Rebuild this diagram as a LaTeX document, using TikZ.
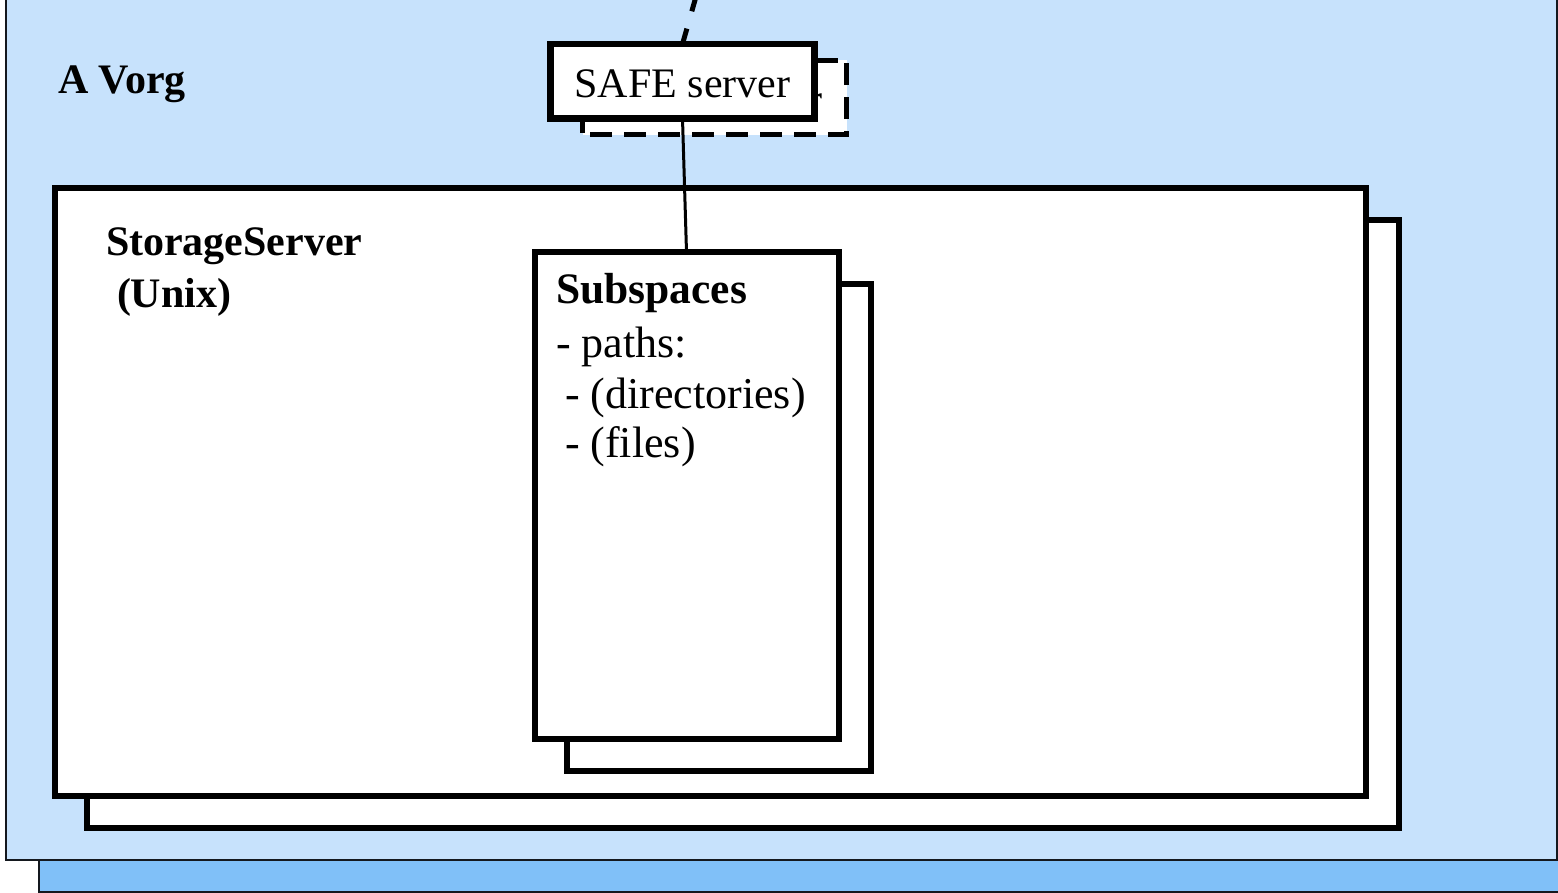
\documentclass[tikz,border=0pt]{standalone}
\usepackage{fontspec}
\setmainfont{Liberation Serif}
\definecolor{vorgfill}{RGB}{199,226,252}
\definecolor{vorgshade}{RGB}{128,192,248}
\definecolor{edgegray}{RGB}{20,24,30}
\begin{document}
\begin{tikzpicture}[x=1pt,y=-1pt,
  every node/.style={inner sep=0pt, outer sep=0pt},
  area/.style={draw=edgegray, line width=2pt, anchor=north west,
    minimum width=1551pt, minimum height=889.5pt},
  panel/.style={draw=black, fill=white, line width=6pt, anchor=north west},
  serverbox/.style={panel, line width=6.5pt, minimum width=264pt, minimum height=74.5pt},
  ghostbox/.style={draw=black, fill=white, line width=5pt, anchor=north west,
    dash pattern=on 22pt off 12pt, dash phase=26.5pt,
    minimum width=264pt, minimum height=74.5pt},
  hostbox/.style={panel, minimum width=1311.5pt, minimum height=608pt},
  spacebox/.style={panel, minimum width=304pt, minimum height=487pt},
  txt/.style={anchor=base west, font=\fontsize{42}{50}\selectfont},
  btxt/.style={anchor=base west, font=\fontsize{42}{50}\selectfont\bfseries},
  listtxt/.style={anchor=base west, font=\fontsize{44}{52}\selectfont},
  listhead/.style={anchor=base west, font=\fontsize{43.5}{52}\selectfont\bfseries},
  ctxt/.style={anchor=base, font=\fontsize{42}{50}\selectfont},
  link/.style={draw=black, line width=3pt},
  dashlink/.style={draw=black, line width=5pt, dash pattern=on 16pt off 18pt}]
\clip (0,0) rectangle (1558,892);

% virtual organisation area and its drop shadow
\node[area, fill=vorgshade] (vorgshadow) at (38.5,2) {};
\node[area, fill=vorgfill] (vorg) at (6,-30) {};
\node[btxt] (vorglabel) at (58,93) {A Vorg};

% storage server (stacked)
\node[hostbox] (hostback) at (87,219.5) {};
\node[hostbox] (host) at (54.5,187.5) {};
\node[btxt] (hostlabel) at (106,255) {StorageServer};
\node[btxt] (hostos) at (117,307) {(Unix)};

% subspaces (stacked)
\node[spacebox] (subback) at (566.5,284) {};
\node[spacebox] (sub) at (534.5,252) {};
\node[listhead] (subA) at (556,303) {Subspaces};
\node[listtxt] (subB) at (556,357) {- paths:};
\node[listtxt] (subC) at (565,408) {- (directories)};
\node[listtxt] (subD) at (565,457) {- (files)};

% SAFE server with its replica behind
\node[ghostbox] (safeback) at (582.5,60) {};
\node[ctxt] (safebacklabel) at (714.5,113) {SAFE server};
\node[serverbox] (safe) at (550.5,44) {};
\coordinate (uplink) at (706.4,-40);

% connectors
\draw[link] (safe.south) -- (sub.north);
\node[ctxt] (safelabel) at (682.5,97) {SAFE server};
\draw[dashlink] (safe.north) -- (uplink);
\end{tikzpicture}
\end{document}
